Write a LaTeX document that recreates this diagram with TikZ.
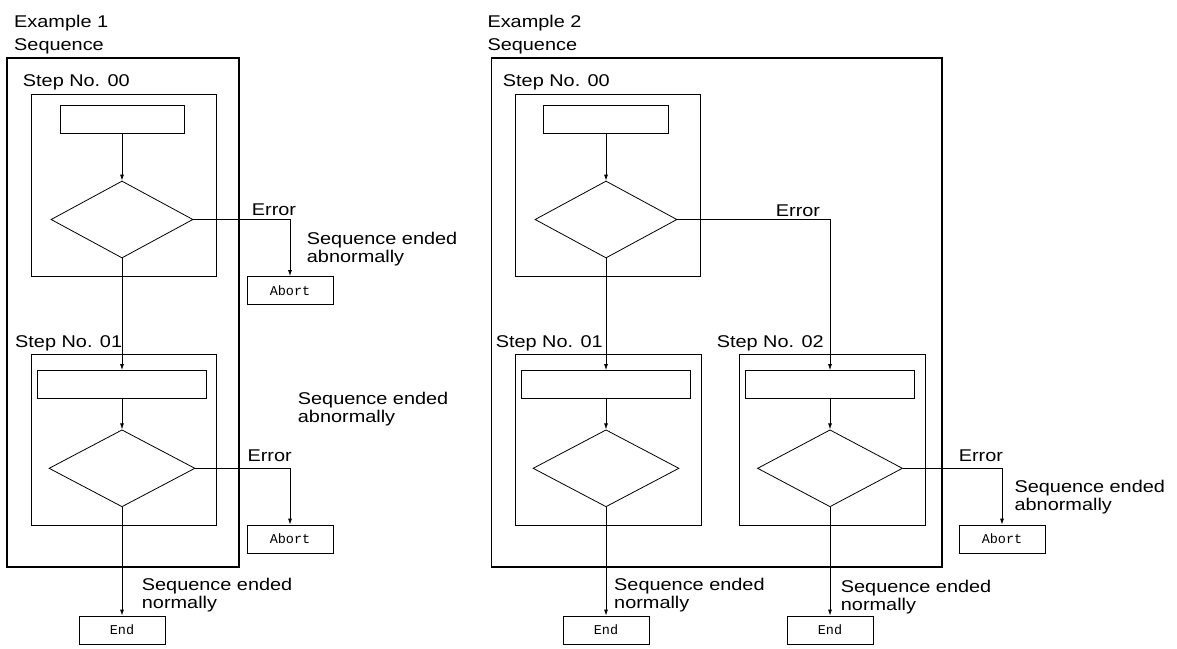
\documentclass[tikz,border=0pt]{standalone}
\usepackage{fontspec}
\setmainfont{Liberation Sans}[FakeStretch=1.17]
\newfontfamily\monof{Liberation Mono}
\usetikzlibrary{arrows.meta,shapes.geometric}
\begin{document}
\begin{tikzpicture}[x=1pt,y=-1pt,
 lbl/.style={inner sep=0pt, anchor=base west, font=\fontsize{17}{18}\selectfont, align=left},
 proc/.style={draw, line width=0.8pt, inner sep=0pt, minimum height=28pt},
 dec/.style={draw, diamond, line width=0.8pt, inner sep=0pt, minimum height=77pt},
 term/.style={draw, line width=0.8pt, inner sep=0pt, minimum width=86pt, minimum height=28pt, font=\monof\fontsize{13.5}{13.5}\selectfont},
 flow/.style={line width=0.8pt, -{Latex[length=6pt,width=4pt]}},
]
\useasboundingbox (0,0) rectangle (1177,648);

% ---------------- Example 1 ----------------
\node[lbl] (t1) at (14,27) {Example 1};
\node[lbl] (s1) at (14,50) {Sequence};
\draw[line width=1.2pt] (7,58) rectangle (239,567);
\node[lbl] (a00) at (22.7,86) {Step No. 00};
\draw[line width=1pt] (31.7,94) rectangle (216.7,276);
\node[proc, minimum width=124pt] (a0r) at (122,119) {};
\node[dec, minimum width=142pt] (a0d) at (122,219.5) {};
\node[term] (ab1) at (290,290.5) {Abort};
\node[lbl] (e1) at (251.7,215) {Error};
\node[lbl] (sa1) at (306.7,262.7) {Sequence ended\\abnormally};

\node[lbl] (a01) at (15,347) {Step No. 01};
\draw[line width=1pt] (31.7,354) rectangle (216.7,525);
\node[proc, minimum width=169pt] (a1r) at (122,384.5) {};
\node[dec, minimum width=146pt] (a1d) at (122,468.3) {};
\node[term] (ab2) at (290,539) {Abort};
\node[lbl] (e2) at (247.3,461.7) {Error};
\node[lbl] (sa2) at (297.7,422.5) {Sequence ended\\abnormally};
\node[term] (en1) at (122,630) {End};
\node[lbl] (sn1) at (141.7,608) {Sequence ended\\normally};

\draw[flow] (a0r.south) -- (a0d.north);
\draw[flow] (a0d.east) -| (ab1.north);
\draw[flow] (a0d.south) -- (a1r.north);
\draw[flow] (a1r.south) -- (a1d.north);
\draw[flow] (a1d.east) -| (ab2.north);
\draw[flow] (a1d.south) -- (en1.north);

% ---------------- Example 2 ----------------
\node[lbl] (t2) at (487.3,27) {Example 2};
\node[lbl] (s2) at (487.3,50) {Sequence};
\draw[line width=1.2pt] (491.7,58) rectangle (942,567);
\node[lbl] (b00) at (502.7,86) {Step No. 00};
\draw[line width=1pt] (515.7,94) rectangle (700,276);
\node[proc, minimum width=125pt] (b0r) at (606,119) {};
\node[dec, minimum width=142pt] (b0d) at (606,219.5) {};
\node[lbl] (e3) at (775.7,216.7) {Error};

\node[lbl] (b01) at (495.6,347) {Step No. 01};
\draw[line width=1pt] (515.7,354) rectangle (701,525);
\node[proc, minimum width=169pt] (b1r) at (606,384.5) {};
\node[dec, minimum width=146pt] (b1d) at (606,468.3) {};

\node[lbl] (b02) at (716.6,347) {Step No. 02};
\draw[line width=1pt] (739.8,354) rectangle (925,525);
\node[proc, minimum width=169pt] (b2r) at (830,384.5) {};
\node[dec, minimum width=145pt] (b2d) at (830,468.3) {};

\node[term] (ab3) at (1002,539) {Abort};
\node[lbl] (e4) at (958.6,461.7) {Error};
\node[lbl] (sa3) at (1014.4,510) {Sequence ended\\abnormally};
\node[term] (en2) at (606,630) {End};
\node[lbl] (sn2) at (614,608) {Sequence ended\\normally};
\node[term] (en3) at (830,630) {End};
\node[lbl] (sn3) at (840.7,610) {Sequence ended\\normally};

\draw[flow] (b0r.south) -- (b0d.north);
\draw[flow] (b0d.south) -- (b1r.north);
\draw[flow] (b0d.east) -| (b2r.north);
\draw[flow] (b1r.south) -- (b1d.north);
\draw[flow] (b2r.south) -- (b2d.north);
\draw[flow] (b1d.south) -- (en2.north);
\draw[flow] (b2d.south) -- (en3.north);
\draw[flow] (b2d.east) -| (ab3.north);
\end{tikzpicture}
\end{document}
